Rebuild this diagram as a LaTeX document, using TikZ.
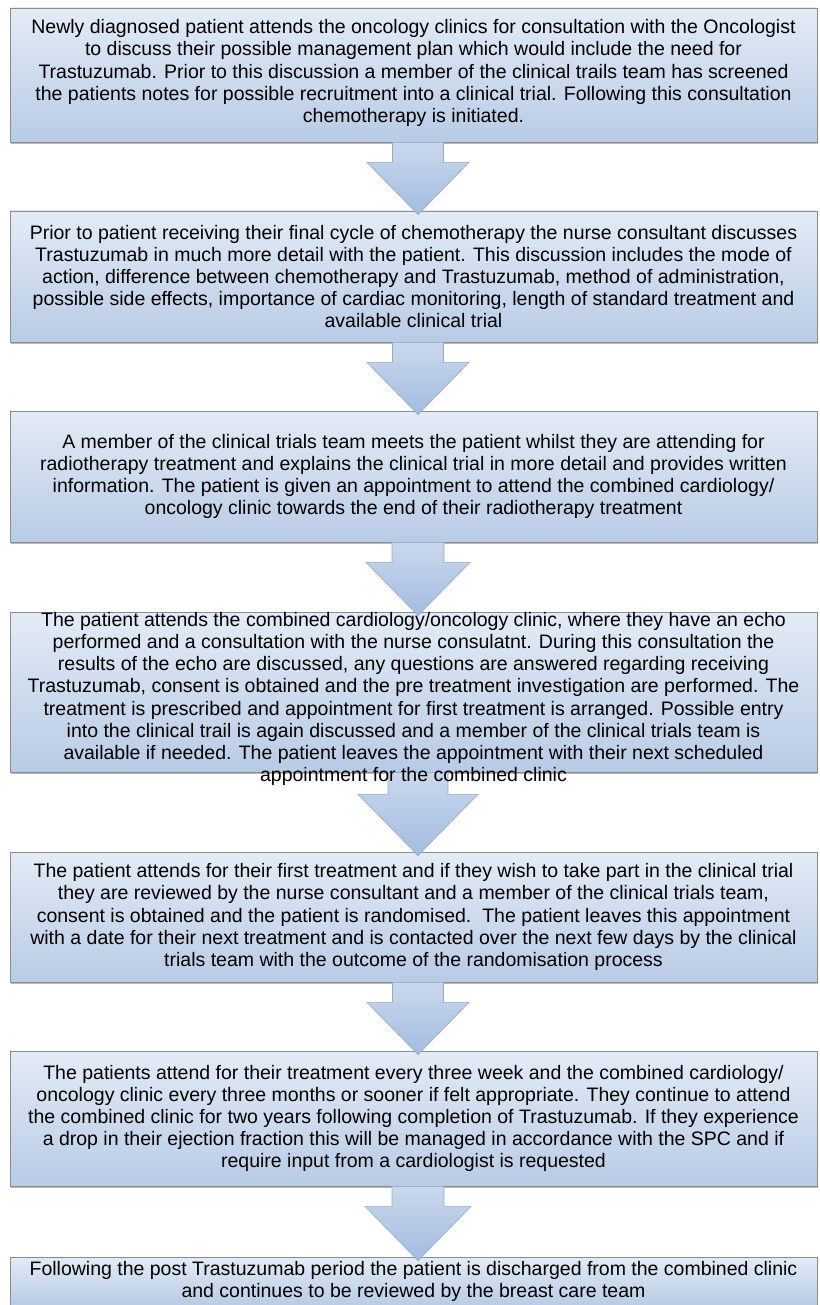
\documentclass[tikz,border=0pt]{standalone}
\usepackage{fontspec}
\setmainfont{Liberation Sans}
\usetikzlibrary{calc,shadows}
\definecolor{boxtop}{HTML}{E3EBF6}
\definecolor{boxbot}{HTML}{B8CBE5}
\definecolor{arrtop}{HTML}{C9D8EC}
\definecolor{arrbot}{HTML}{A3BCDF}
\definecolor{boxline}{HTML}{8C8C8C}
\definecolor{arrline}{HTML}{95AACB}
\tikzset{
 flowbox/.style={draw=boxline, line width=0.8pt, top color=boxtop, bottom color=boxbot,
   minimum width=807pt, inner sep=0pt,
   drop shadow={shadow xshift=1.2pt, shadow yshift=-2pt, fill=black!50, opacity=0.55}},
 flowtext/.style={align=center, font=\fontsize{19.5}{22.2}\selectfont, inner sep=0pt},
 blockarrow/.style={draw=arrline, line width=0.6pt, top color=arrtop, bottom color=arrbot},
}
% #1 from node, #2 to node, #3 shaft half width, #4 head half width, #5 head start offset
\newcommand\blockarr[5]{%
 \path[blockarrow] ($(#1.south)+(4.5-#3,0)$) -- ($(#1.south)+(4.5-#3,#5)$)
   -- ($(#1.south)+(4.5-#4,#5)$) -- ($(#2.north)+(4.5,4)$)
   -- ($(#1.south)+(4.5+#4,#5)$) -- ($(#1.south)+(4.5+#3,#5)$)
   -- ($(#1.south)+(4.5+#3,0)$) -- cycle;}
\begin{document}
\begin{tikzpicture}[x=1pt,y=-1pt]
\useasboundingbox (0,0) rectangle (819,1305);
% boxes
\node[flowbox, minimum height=134pt] (b1) at (413.5,75) {};
\node[flowbox, minimum height=131pt] (b2) at (413.5,276.5) {};
\node[flowbox, minimum height=131pt] (b3) at (413.5,476.5) {};
\node[flowbox, minimum height=160pt] (b4) at (413.5,692) {};
\node[flowbox, minimum height=130pt] (b5) at (413.5,917) {};
\node[flowbox, minimum height=135pt] (b6) at (413.5,1118.5) {};
\node[flowbox, minimum height=49pt] (b7) at (413.5,1281.5) {};
% arrows
\blockarr{b1}{b2}{25.5}{51}{20}
\blockarr{b2}{b3}{25.5}{51}{20}
\blockarr{b3}{b4}{26}{52}{20}
\blockarr{b4}{b5}{30}{60}{22}
\blockarr{b5}{b6}{25.5}{51}{20}
\blockarr{b6}{b7}{26}{53}{20}
% texts
\node[flowtext] (t1) at ($(b1.center)+(0,-2)$) {Newly diagnosed patient attends the oncology clinics for consultation with the Oncologist\\
to discuss their possible management plan which would include the need for\\
Trastuzumab. Prior to this discussion a member of the clinical trails team has screened\\
the patients notes for possible recruitment into a clinical trial. Following this consultation\\
chemotherapy is initiated.};
\node[flowtext] (t2) at (b2.center) {Prior to patient receiving their final cycle of chemotherapy the nurse consultant discusses\\
Trastuzumab in much more detail with the patient. This discussion includes the mode of\\
action, difference between chemotherapy and Trastuzumab, method of administration,\\
possible side effects, importance of cardiac monitoring, length of standard treatment and\\
available clinical trial};
\node[flowtext] (t3) at (b3.center) {A member of the clinical trials team meets the patient whilst they are attending for\\
radiotherapy treatment and explains the clinical trial in more detail and provides written\\
information. The patient is given an appointment to attend the combined cardiology/\\
oncology clinic towards the end of their radiotherapy treatment};
\node[flowtext] (t4) at ($(b4.center)+(0,7)$) {The patient attends the combined cardiology/oncology clinic, where they have an echo\\
performed and a consultation with the nurse consulatnt. During this consultation the\\
results of the echo are discussed, any questions are answered regarding receiving\\
Trastuzumab, consent is obtained and the pre treatment investigation are performed. The\\
treatment is prescribed and appointment for first treatment is arranged. Possible entry\\
into the clinical trail is again discussed and a member of the clinical trials team is\\
available if needed. The patient leaves the appointment with their next scheduled\\
appointment for the combined clinic};
\node[flowtext] (t5) at (b5.center) {The patient attends for their first treatment and if they wish to take part in the clinical trial\\
they are reviewed by the nurse consultant and a member of the clinical trials team,\\
consent is obtained and the patient is randomised.\ \ The patient leaves this appointment\\
with a date for their next treatment and is contacted over the next few days by the clinical\\
trials team with the outcome of the randomisation process};
\node[flowtext] (t6) at (b6.center) {The patients attend for their treatment every three week and the combined cardiology/\\
oncology clinic every three months or sooner if felt appropriate. They continue to attend\\
the combined clinic for two years following completion of Trastuzumab. If they experience\\
a drop in their ejection fraction this will be managed in accordance with the SPC and if\\
require input from a cardiologist is requested};
\node[flowtext] (t7) at (b7.center) {Following the post Trastuzumab period the patient is discharged from the combined clinic\\
and continues to be reviewed by the breast care team};
\end{tikzpicture}
\end{document}
